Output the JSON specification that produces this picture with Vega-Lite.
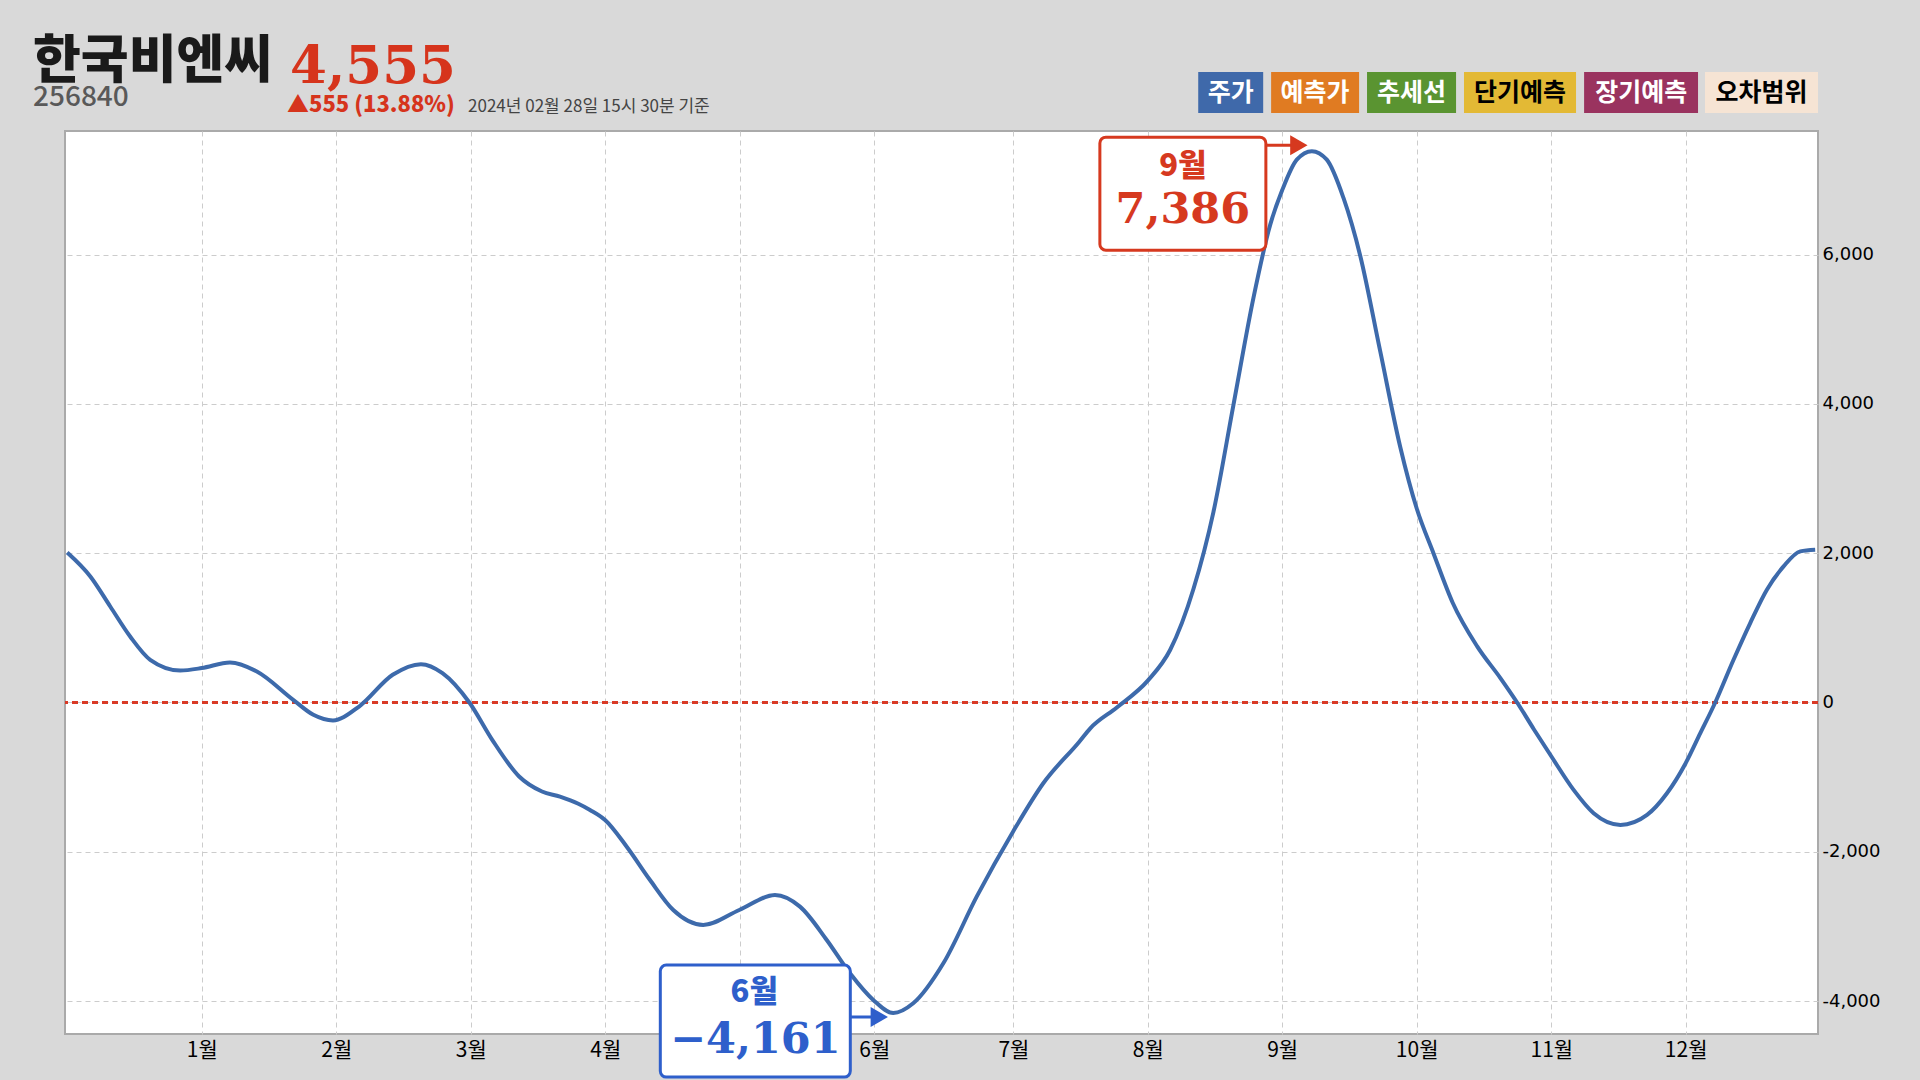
{
  "$schema": "https://vega.github.io/schema/vega-lite/v6.json",
  "autosize": {"type": "none"},
  "width": 1753,
  "height": 903,
  "padding": {"left": 65, "top": 131, "right": 102, "bottom": 46},
  "background": "#d9d9d9",
  "config": {
    "view": {"stroke": "#aaaaaa", "strokeWidth": 2, "fill": "#ffffff"},
    "font": "Noto Sans CJK KR"
  },
  "datasets": {
    "series": [
      {"m": 0.0, "v": 2009}, {"m": 0.172, "v": 1688}, {"m": 0.32, "v": 1286}, {"m": 0.468, "v": 884},
      {"m": 0.617, "v": 572}, {"m": 0.84, "v": 429}, {"m": 1.0, "v": 461}, {"m": 1.21, "v": 536},
      {"m": 1.41, "v": 415}, {"m": 1.68, "v": 36}, {"m": 1.83, "v": -165}, {"m": 1.976, "v": -241},
      {"m": 2.17, "v": -54}, {"m": 2.42, "v": 371}, {"m": 2.63, "v": 514}, {"m": 2.79, "v": 394},
      {"m": 2.99, "v": 0}, {"m": 3.16, "v": -500}, {"m": 3.36, "v": -991}, {"m": 3.53, "v": -1192},
      {"m": 3.664, "v": -1262}, {"m": 3.8, "v": -1357}, {"m": 3.887, "v": -1440}, {"m": 3.999, "v": -1574},
      {"m": 4.16, "v": -1932}, {"m": 4.333, "v": -2378}, {"m": 4.506, "v": -2780}, {"m": 4.729, "v": -2980},
      {"m": 4.997, "v": -2780}, {"m": 5.262, "v": -2579}, {"m": 5.448, "v": -2735}, {"m": 5.647, "v": -3181},
      {"m": 5.82, "v": -3628}, {"m": 5.993, "v": -3985}, {"m": 6.142, "v": -4161}, {"m": 6.29, "v": -4030},
      {"m": 6.514, "v": -3494}, {"m": 6.762, "v": -2601}, {"m": 7.032, "v": -1731}, {"m": 7.257, "v": -1082},
      {"m": 7.525, "v": -525}, {"m": 7.605, "v": -349}, {"m": 7.804, "v": -67}, {"m": 8.034, "v": 293},
      {"m": 8.2, "v": 703}, {"m": 8.374, "v": 1524}, {"m": 8.522, "v": 2551}, {"m": 8.671, "v": 3988},
      {"m": 8.82, "v": 5424}, {"m": 8.944, "v": 6399}, {"m": 9.033, "v": 6861}, {"m": 9.142, "v": 7272},
      {"m": 9.254, "v": 7386}, {"m": 9.365, "v": 7272}, {"m": 9.489, "v": 6759}, {"m": 9.613, "v": 5989},
      {"m": 9.762, "v": 4706}, {"m": 9.911, "v": 3423}, {"m": 10.033, "v": 2602}, {"m": 10.16, "v": 1990},
      {"m": 10.3, "v": 1340}, {"m": 10.483, "v": 752}, {"m": 10.657, "v": 324}, {"m": 10.78, "v": 0},
      {"m": 10.904, "v": -358}, {"m": 11.035, "v": -724}, {"m": 11.2, "v": -1171}, {"m": 11.349, "v": -1484},
      {"m": 11.548, "v": -1640}, {"m": 11.746, "v": -1506}, {"m": 11.894, "v": -1216}, {"m": 12.033, "v": -813},
      {"m": 12.142, "v": -411}, {"m": 12.253, "v": 0}, {"m": 12.389, "v": 572}, {"m": 12.513, "v": 1064},
      {"m": 12.637, "v": 1511}, {"m": 12.761, "v": 1823}, {"m": 12.885, "v": 2025}, {"m": 12.996, "v": 2047}
    ],
    "peak": [{"m": 9.254, "v": 7386, "label": "9월"}],
    "trough": [{"m": 6.142, "v": -4161, "label": "6월"}]
  },
  "layer": [
    {
      "data": {"values": [{}]},
      "mark": {"type": "rule", "color": "#d93a26", "strokeWidth": 3, "strokeDash": [6, 4]},
      "encoding": {"y": {"datum": 0, "type": "quantitative"}}
    },
    {
      "data": {"name": "series"},
      "mark": {"type": "line", "color": "#3d6aab", "strokeWidth": 4, "interpolate": "monotone"},
      "encoding": {
        "x": {
          "field": "m", "type": "quantitative",
          "scale": {"domain": [-0.0164, 13.017], "nice": false, "zero": false},
          "axis": {
            "title": null, "orient": "bottom",
            "values": [1, 2, 3, 4, 5, 6, 7.035, 8.034, 9.033, 10.033, 11.034, 12.033],
            "labelExpr": "round(datum.value) + '월'",
            "domain": false, "ticks": false,
            "grid": true, "gridColor": "#cccccc", "gridDash": [5, 4], "gridWidth": 1,
            "labelFont": "Noto Sans CJK KR", "labelFontSize": 21, "labelColor": "#000000",
            "labelPadding": 5
          }
        },
        "y": {
          "field": "v", "type": "quantitative",
          "scale": {"domain": [-4441, 7656], "nice": false, "zero": false},
          "axis": {
            "title": null, "orient": "right",
            "values": [-4000, -2000, 0, 2000, 4000, 6000],
            "format": ",.0f",
            "labelExpr": "replace(datum.label, '−', '-')",
            "domain": false, "ticks": false,
            "grid": true, "gridColor": "#cccccc", "gridDash": [5, 4], "gridWidth": 1,
            "labelFont": "DejaVu Sans", "labelFontSize": 18, "labelColor": "#000000",
            "labelPadding": 4
          }
        }
      }
    },
    {
      "data": {"name": "peak"},
      "encoding": {
        "x": {"field": "m", "type": "quantitative"},
        "y": {"field": "v", "type": "quantitative"}
      },
      "layer": [
        {"mark": {"type": "rect", "fill": "#ffffff", "stroke": "#d6391f", "strokeWidth": 3, "cornerRadius": 6,
                  "xOffset": -212, "x2Offset": -46, "yOffset": -14, "y2Offset": 99},
         "encoding": {"x2": {"field": "m"}, "y2": {"field": "v"}}},
        {"mark": {"type": "rule", "color": "#d6391f", "strokeWidth": 3, "xOffset": -46, "x2Offset": -10, "yOffset": -6},
         "encoding": {"x2": {"field": "m"}}},
        {"mark": {"type": "point", "shape": "triangle-right", "filled": true, "opacity": 1, "color": "#d6391f", "size": 400, "xOffset": -13, "yOffset": -6}},
        {"mark": {"type": "text", "color": "#d6391f", "font": "Noto Sans CJK KR", "fontWeight": 900, "fontSize": 31, "align": "center", "baseline": "middle", "dx": -129, "dy": 16},
         "encoding": {"text": {"field": "label"}}},
        {"mark": {"type": "text", "color": "#d6391f", "font": "DejaVu Serif", "fontWeight": "bold", "fontSize": 43, "align": "center", "baseline": "middle", "dx": -129, "dy": 59},
         "encoding": {"text": {"field": "v", "type": "quantitative", "format": ","}}}
      ]
    },
    {
      "data": {"name": "trough"},
      "encoding": {
        "x": {"field": "m", "type": "quantitative"},
        "y": {"field": "v", "type": "quantitative"}
      },
      "layer": [
        {"mark": {"type": "rect", "fill": "#ffffff", "stroke": "#2e5fcb", "strokeWidth": 3, "cornerRadius": 6,
                  "xOffset": -233, "x2Offset": -43, "yOffset": -48, "y2Offset": 64},
         "encoding": {"x2": {"field": "m"}, "y2": {"field": "v"}}},
        {"mark": {"type": "rule", "color": "#2e5fcb", "strokeWidth": 3, "xOffset": -43, "x2Offset": -10, "yOffset": 4},
         "encoding": {"x2": {"field": "m"}}},
        {"mark": {"type": "point", "shape": "triangle-right", "filled": true, "opacity": 1, "color": "#2e5fcb", "size": 400, "xOffset": -14, "yOffset": 4}},
        {"mark": {"type": "text", "color": "#2e5fcb", "font": "Noto Sans CJK KR", "fontWeight": 900, "fontSize": 31, "align": "center", "baseline": "middle", "dx": -139, "dy": -20},
         "encoding": {"text": {"field": "label"}}},
        {"mark": {"type": "text", "color": "#2e5fcb", "font": "DejaVu Serif", "fontWeight": "bold", "fontSize": 43, "align": "center", "baseline": "middle", "dx": -138, "dy": 27},
         "encoding": {"text": {"field": "v", "type": "quantitative", "format": ","}}}
      ]
    },
    {
      "data": {"values": [{}]},
      "layer": [
        {"mark": {"type": "text", "color": "#1a1a1a", "font": "Noto Sans CJK KR", "fontWeight": 900, "fontSize": 52, "align": "left", "baseline": "alphabetic"},
         "encoding": {"x": {"datum": -0.2543, "type": "quantitative"}, "y": {"datum": 8370, "type": "quantitative"}, "text": {"value": "한국비엔씨"}}},
        {"mark": {"type": "text", "color": "#595959", "font": "Noto Sans CJK KR", "fontWeight": 500, "fontSize": 28, "align": "left", "baseline": "alphabetic"},
         "encoding": {"x": {"datum": -0.2543, "type": "quantitative"}, "y": {"datum": 7990, "type": "quantitative"}, "text": {"value": "256840"}}},
        {"mark": {"type": "text", "color": "#d6341c", "font": "DejaVu Serif", "fontWeight": "bold", "fontSize": 53, "align": "left", "baseline": "alphabetic"},
         "encoding": {"x": {"datum": 1.6565, "type": "quantitative"}, "y": {"datum": 8299, "type": "quantitative"}, "text": {"value": "4,555"}}},
        {"mark": {"type": "text", "color": "#d6341c", "font": "Noto Sans CJK KR", "fontWeight": 900, "fontSize": 22, "align": "left", "baseline": "alphabetic"},
         "encoding": {"x": {"datum": 1.634, "type": "quantitative"}, "y": {"datum": 7910, "type": "quantitative"}, "text": {"value": "▲555 (13.88%)"}}},
        {"mark": {"type": "text", "color": "#444444", "font": "Noto Sans CJK KR", "fontSize": 17, "align": "left", "baseline": "alphabetic"},
         "encoding": {"x": {"datum": 2.98, "type": "quantitative"}, "y": {"datum": 7910, "type": "quantitative"}, "text": {"value": "2024년 02월 28일 15시 30분 기준"}}}
      ]
    },
    {
      "data": {"values": [{}]},
      "encoding": {
        "y": {"datum": 8446, "type": "quantitative"},
        "y2": {"datum": 7897}
      },
      "layer": [
        {"mark": {"type": "rect", "fill": "#3f69aa"},
         "encoding": {"x": {"datum": 8.409, "type": "quantitative"}, "x2": {"datum": 8.892}}},
        {"mark": {"type": "rect", "fill": "#e07b22"},
         "encoding": {"x": {"datum": 8.951, "type": "quantitative"}, "x2": {"datum": 9.605}}},
        {"mark": {"type": "rect", "fill": "#5a9431"},
         "encoding": {"x": {"datum": 9.664, "type": "quantitative"}, "x2": {"datum": 10.326}}},
        {"mark": {"type": "rect", "fill": "#e3b935"},
         "encoding": {"x": {"datum": 10.385, "type": "quantitative"}, "x2": {"datum": 11.218}}},
        {"mark": {"type": "rect", "fill": "#9a335f"},
         "encoding": {"x": {"datum": 11.278, "type": "quantitative"}, "x2": {"datum": 12.125}}},
        {"mark": {"type": "rect", "fill": "#f6e4d4"},
         "encoding": {"x": {"datum": 12.177, "type": "quantitative"}, "x2": {"datum": 13.017}}}
      ]
    },
    {
      "data": {"values": [{}]},
      "encoding": {
        "y": {"datum": 8171, "type": "quantitative"}
      },
      "layer": [
        {"mark": {"type": "text", "color": "#ffffff", "font": "Noto Sans CJK KR", "fontWeight": "bold", "fontSize": 25, "align": "center", "baseline": "middle"},
         "encoding": {"x": {"datum": 8.651, "type": "quantitative"}, "text": {"value": "주가"}}},
        {"mark": {"type": "text", "color": "#ffffff", "font": "Noto Sans CJK KR", "fontWeight": "bold", "fontSize": 25, "align": "center", "baseline": "middle"},
         "encoding": {"x": {"datum": 9.278, "type": "quantitative"}, "text": {"value": "예측가"}}},
        {"mark": {"type": "text", "color": "#ffffff", "font": "Noto Sans CJK KR", "fontWeight": "bold", "fontSize": 25, "align": "center", "baseline": "middle"},
         "encoding": {"x": {"datum": 9.995, "type": "quantitative"}, "text": {"value": "추세선"}}},
        {"mark": {"type": "text", "color": "#000000", "font": "Noto Sans CJK KR", "fontWeight": "bold", "fontSize": 25, "align": "center", "baseline": "middle"},
         "encoding": {"x": {"datum": 10.802, "type": "quantitative"}, "text": {"value": "단기예측"}}},
        {"mark": {"type": "text", "color": "#ffffff", "font": "Noto Sans CJK KR", "fontWeight": "bold", "fontSize": 25, "align": "center", "baseline": "middle"},
         "encoding": {"x": {"datum": 11.702, "type": "quantitative"}, "text": {"value": "장기예측"}}},
        {"mark": {"type": "text", "color": "#000000", "font": "Noto Sans CJK KR", "fontWeight": "bold", "fontSize": 25, "align": "center", "baseline": "middle"},
         "encoding": {"x": {"datum": 12.597, "type": "quantitative"}, "text": {"value": "오차범위"}}}
      ]
    }
  ]
}
